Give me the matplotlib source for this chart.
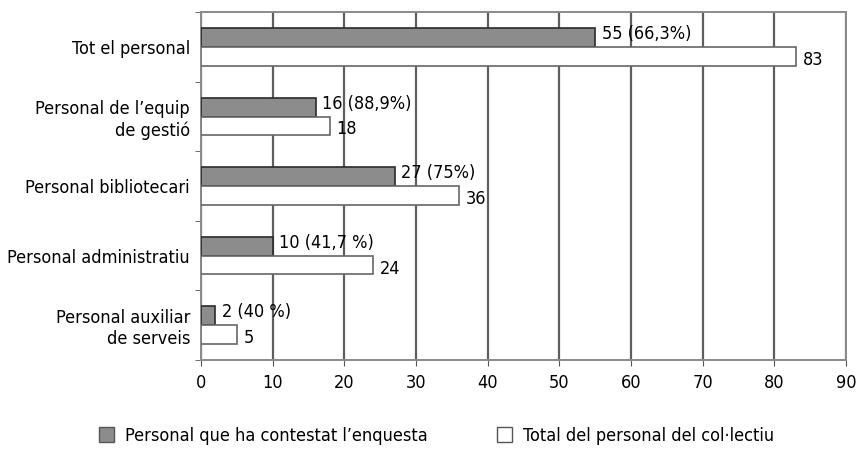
import matplotlib.pyplot as plt
import numpy as np
from matplotlib.patches import Patch

# data
categories = ["Tot el personal", "Personal de l\u2019equip\nde gesti\u00f3", "Personal bibliotecari",
              "Personal administratiu", "Personal auxiliar\nde serveis"]
answered = [55, 16, 27, 10, 2]
answered_labels = ["55 (66,3%)", "16 (88,9%)", "27 (75%)", "10 (41,7 %)", "2 (40 %)"]
total = [83, 18, 36, 24, 5]
legend_labels = ["Personal que ha contestat l\u2019enquesta", "Total del personal del col\u00b7lectiu"]

plt.rcParams['font.family'] = ['DejaVu Sans']
plt.rcParams['font.stretch'] = 'condensed'
plt.rcParams['font.size'] = 13

fig = plt.figure(figsize=(8.59, 4.5), dpi=100)
ax = fig.add_axes([0.234, 0.2, 0.751, 0.773])

y = np.arange(len(categories))
h = 0.27
ax.barh(y - h / 2, answered, height=h, color='#8c8c8c', edgecolor='#2a2a2a', linewidth=1.2, zorder=3)
ax.barh(y + h / 2, total, height=h, color='white', edgecolor='#666666', linewidth=1.2, zorder=3)

# value labels
for i in range(len(categories)):
    ax.text(answered[i] + 0.9, y[i] - h / 2 - 0.05, answered_labels[i], va='center', ha='left', zorder=4)
    ax.text(total[i] + 0.9, y[i] + h / 2 + 0.05, str(total[i]), va='center', ha='left', zorder=4)

ax.set_xlim(0, 90)
ax.set_ylim(len(categories) - 0.5, -0.5)
ax.set_xticks(np.arange(0, 91, 10))
ax.set_yticks(y)
ax.set_yticklabels(categories, ha='right')
ax.set_yticks(np.arange(-0.5, len(categories), 1), minor=True)
ax.tick_params(axis='y', which='major', length=0, pad=8)
ax.tick_params(axis='y', which='minor', length=4, color='#555555')
ax.tick_params(axis='x', length=4, color='#555555', pad=6)

ax.grid(axis='x', color='#5e5e5e', linewidth=1.6, zorder=0)
for s in ax.spines.values():
    s.set_color('#8a8a8a')
    s.set_linewidth(1.4)

# legend: two entries placed separately like the original
colors = ['#8c8c8c', 'white']
xs = [0.1153, 0.5786]
for lab, c, x in zip(legend_labels, colors, xs):
    fig.legend([Patch(facecolor=c, edgecolor='#555555')], [lab], loc='center left',
               bbox_to_anchor=(x, 0.031), frameon=False, borderpad=0, borderaxespad=0,
               handlelength=0.85, handleheight=0.9, handletextpad=0.6)

fig.savefig('out.png', dpi=100)
